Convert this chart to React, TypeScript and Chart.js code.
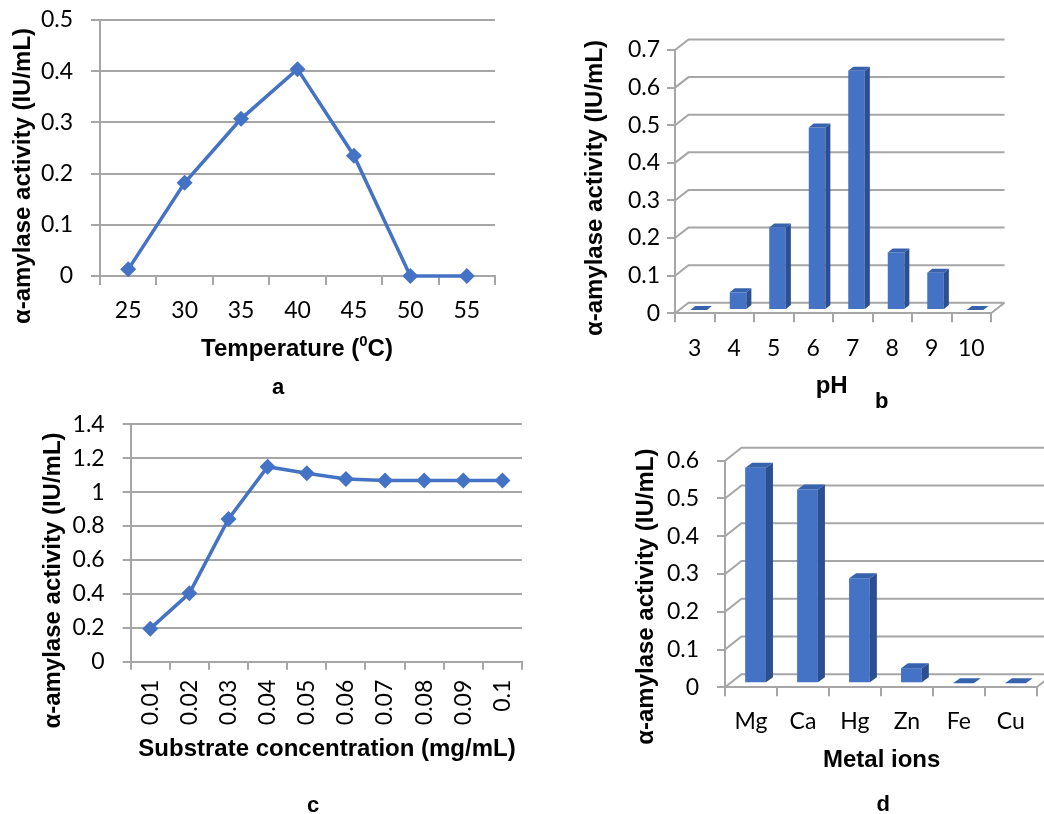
import React, { useEffect, useRef } from 'react';
import { Chart, registerables } from 'chart.js';

Chart.register(...registerables);

// ---------- data ----------
const temperatureLabels = ['25', '30', '35', '40', '45', '50', '55'];
const temperatureActivity = [0.013, 0.182, 0.307, 0.404, 0.235, 0, 0];

const phLabels = ['3', '4', '5', '6', '7', '8', '9', '10'];
const phActivity = [0, 0.047, 0.219, 0.485, 0.636, 0.153, 0.099, 0];

const substrateLabels = ['0.01', '0.02', '0.03', '0.04', '0.05', '0.06', '0.07', '0.08', '0.09', '0.1'];
const substrateActivity = [0.195, 0.403, 0.842, 1.15, 1.111, 1.078, 1.068, 1.068, 1.068, 1.068];

const metalLabels = ['Mg', 'Ca', 'Hg', 'Zn', 'Fe', 'Cu'];
const metalActivity = [0.571, 0.513, 0.278, 0.04, 0, 0];

const Y_TITLE = 'α-amylase activity (IU/mL)';

// ---------- style ----------
const BLUE = '#4472C4';
const SIDE = '#2c4f8f';
const TOP = '#3762ae';
const GRID = '#a6a6a6';
const TICK_FONT = { family: 'Lato, "Open Sans", sans-serif', size: 23 };
const TITLE_SIZE = 24;
const LETTER_SIZE = 22;

type Seg = { t: string; sup?: boolean };
type TextItem = { segs: Seg[]; x: number; y: number; size: number; rotate?: boolean };

function textPlugin(items: TextItem[]) {
  return {
    id: 'panelText',
    afterDraw(chart: any) {
      const ctx = chart.ctx as CanvasRenderingContext2D;
      const font = (s: number) => `bold ${s}px "Liberation Sans", Arial, sans-serif`;
      items.forEach((it) => {
        ctx.save();
        ctx.translate(it.x, it.y);
        if (it.rotate) ctx.rotate(-Math.PI / 2);
        ctx.fillStyle = '#000';
        ctx.textBaseline = 'middle';
        ctx.textAlign = 'left';
        const widths = it.segs.map((sg) => {
          ctx.font = font(sg.sup ? it.size * 0.62 : it.size);
          return ctx.measureText(sg.t).width;
        });
        const total = widths.reduce((a, b) => a + b, 0);
        let x = -total / 2;
        it.segs.forEach((sg, i) => {
          ctx.font = font(sg.sup ? it.size * 0.62 : it.size);
          ctx.fillText(sg.t, x, sg.sup ? -it.size * 0.3 : 0);
          x += widths[i];
        });
        ctx.restore();
      });
    },
  };
}

type ThreeD = { back: [number, number]; shift: [number, number]; depth: [number, number] };

function threeDPlugin(cfg: ThreeD) {
  return {
    id: 'threeD',
    beforeDatasetsDraw(chart: any) {
      const ctx = chart.ctx as CanvasRenderingContext2D;
      const { left, right, bottom } = chart.chartArea;
      const yScale = chart.scales.y;
      const [dx, dy] = cfg.back;
      ctx.save();
      ctx.strokeStyle = GRID;
      ctx.lineWidth = 2;
      ctx.beginPath();
      yScale.ticks.forEach((t: any) => {
        const py = yScale.getPixelForValue(t.value);
        ctx.moveTo(left, py);
        ctx.lineTo(left + dx, py + dy);
        ctx.lineTo(right + dx, py + dy);
      });
      ctx.moveTo(right, bottom);
      ctx.lineTo(right + dx, bottom + dy);
      ctx.stroke();
      ctx.restore();
      ctx.save();
      ctx.translate(cfg.shift[0], cfg.shift[1]);
    },
    afterDatasetsDraw(chart: any) {
      const ctx = chart.ctx as CanvasRenderingContext2D;
      ctx.restore();
      const meta = chart.getDatasetMeta(0);
      const [sx, sy] = cfg.shift;
      const [ddx, ddy] = cfg.depth;
      meta.data.forEach((bar: any) => {
        const { x, y, base, width } = bar.getProps(['x', 'y', 'base', 'width'], true);
        const l = x - width / 2 + sx;
        const r = x + width / 2 + sx;
        const t = y + sy;
        const b = base + sy;
        ctx.fillStyle = SIDE;
        ctx.beginPath();
        ctx.moveTo(r, t);
        ctx.lineTo(r + ddx, t + ddy);
        ctx.lineTo(r + ddx, b + ddy);
        ctx.lineTo(r, b);
        ctx.closePath();
        ctx.fill();
        ctx.fillStyle = TOP;
        ctx.beginPath();
        ctx.moveTo(l, t);
        ctx.lineTo(l + ddx, t + ddy);
        ctx.lineTo(r + ddx, t + ddy);
        ctx.lineTo(r, t);
        ctx.closePath();
        ctx.fill();
      });
    },
  };
}

function xCat(o: { height: number; tickLength: number; padding: number; rot?: number }) {
  return {
    type: 'category',
    offset: true,
    grid: { offset: true, drawOnChartArea: false, drawTicks: true, tickLength: o.tickLength, color: GRID, lineWidth: 2 },
    border: { display: true, color: GRID, width: 2 },
    ticks: {
      color: '#000',
      font: TICK_FONT,
      padding: o.padding,
      autoSkip: false,
      maxRotation: o.rot ?? 0,
      minRotation: o.rot ?? 0,
    },
    afterFit: (s: any) => {
      s.height = o.height;
      s.paddingLeft = 0;
      s.paddingRight = 0;
    },
  };
}

function yLin(o: { width: number; max: number; step: number; tickLength: number; padding: number; grid: boolean }) {
  return {
    type: 'linear',
    min: 0,
    max: o.max,
    ticks: {
      stepSize: o.step,
      color: '#000',
      font: TICK_FONT,
      padding: o.padding,
      callback: (v: number) => String(Math.round(v * 100) / 100),
    },
    grid: { drawOnChartArea: o.grid, drawTicks: true, tickLength: o.tickLength, color: GRID, lineWidth: 2 },
    border: { display: true, color: GRID, width: 2 },
    afterFit: (s: any) => {
      s.width = o.width;
      s.paddingTop = 0;
      s.paddingBottom = 0;
    },
  };
}

function common(padding: any) {
  return {
    responsive: false,
    animation: false,
    events: [],
    layout: { padding, autoPadding: false },
    plugins: { legend: { display: false }, tooltip: { enabled: false } },
  };
}

function lineDataset(values: number[]) {
  return {
    data: values,
    borderColor: BLUE,
    backgroundColor: BLUE,
    borderWidth: 3.5,
    pointStyle: 'rectRot',
    pointRadius: 8,
    pointBackgroundColor: BLUE,
    pointBorderColor: BLUE,
    pointBorderWidth: 0,
    tension: 0,
    clip: false,
  };
}

function barDataset(values: number[], pct: number) {
  return {
    data: values,
    backgroundColor: BLUE,
    borderWidth: 0,
    barPercentage: pct,
    categoryPercentage: 1,
    clip: false,
  };
}

const makeA = () => ({
  type: 'line',
  data: { labels: temperatureLabels, datasets: [lineDataset(temperatureActivity)] },
  options: {
    ...common({ left: 0, top: 20, right: 45, bottom: 0 }),
    scales: {
      x: xCat({ height: 134, tickLength: 9, padding: 12 }),
      y: yLin({ width: 100, max: 0.5, step: 0.1, tickLength: 9, padding: 18, grid: true }),
    },
  },
  plugins: [
    textPlugin([
      { segs: [{ t: Y_TITLE }], x: 23, y: 176, size: TITLE_SIZE, rotate: true },
      { segs: [{ t: 'Temperature (' }, { t: '0', sup: true }, { t: 'C)' }], x: 297, y: 349, size: TITLE_SIZE },
      { segs: [{ t: 'a' }], x: 278, y: 388, size: LETTER_SIZE },
    ]),
  ],
});

const makeB = () => ({
  type: 'bar',
  data: { labels: phLabels, datasets: [barDataset(phActivity, 0.42)] },
  options: {
    ...common({ left: 0, top: 50, right: 53, bottom: 0 }),
    scales: {
      x: xCat({ height: 96.7, tickLength: 9, padding: 12 }),
      y: yLin({ width: 135, max: 0.7, step: 0.1, tickLength: 8, padding: 7, grid: false }),
    },
  },
  plugins: [
    threeDPlugin({ back: [13.5, -10.5], shift: [3.8, -3.3], depth: [5, -4] }),
    textPlugin([
      { segs: [{ t: Y_TITLE }], x: 55, y: 188, size: TITLE_SIZE, rotate: true },
      { segs: [{ t: 'pH' }], x: 291.7, y: 386.7, size: TITLE_SIZE },
      { segs: [{ t: 'b' }], x: 341.7, y: 401.7, size: LETTER_SIZE },
    ]),
  ],
});

const makeC = () => ({
  type: 'line',
  data: { labels: substrateLabels, datasets: [lineDataset(substrateActivity)] },
  options: {
    ...common({ left: 0, top: 14.3, right: 18, bottom: 0 }),
    scales: {
      x: xCat({ height: 152.3, tickLength: 8, padding: 10, rot: 90 }),
      y: yLin({ width: 130.7, max: 1.4, step: 0.2, tickLength: 8, padding: 18, grid: true }),
    },
  },
  plugins: [
    textPlugin([
      { segs: [{ t: Y_TITLE }], x: 53, y: 170.5, size: TITLE_SIZE, rotate: true },
      { segs: [{ t: 'Substrate concentration (mg/mL)' }], x: 327, y: 339, size: TITLE_SIZE },
      { segs: [{ t: 'c' }], x: 313, y: 396, size: LETTER_SIZE },
    ]),
  ],
});

const makeD = () => ({
  type: 'bar',
  data: { labels: metalLabels, datasets: [barDataset(metalActivity, 0.4)] },
  options: {
    ...common({ left: 0, top: 50.7, right: 7.3, bottom: 0 }),
    scales: {
      x: xCat({ height: 126.7, tickLength: 9, padding: 11 }),
      y: yLin({ width: 185, max: 0.6, step: 0.1, tickLength: 8, padding: 18, grid: false }),
    },
  },
  plugins: [
    threeDPlugin({ back: [16.5, -13], shift: [4.6, -4], depth: [7, -5] }),
    textPlugin([
      { segs: [{ t: Y_TITLE }], x: 106.7, y: 186.7, size: TITLE_SIZE, rotate: true },
      { segs: [{ t: 'Metal ions' }], x: 341.7, y: 350, size: TITLE_SIZE },
      { segs: [{ t: 'd' }], x: 343.3, y: 395, size: LETTER_SIZE },
    ]),
  ],
});

function ChartCanvas(props: { left: number; top: number; width: number; height: number; make: () => any }) {
  const ref = useRef<HTMLCanvasElement>(null);
  useEffect(() => {
    const chart = new Chart(ref.current as HTMLCanvasElement, props.make());
    return () => chart.destroy();
  }, []);
  return (
    <canvas
      ref={ref}
      width={props.width}
      height={props.height}
      style={{ position: 'absolute', left: props.left, top: props.top, width: props.width, height: props.height }}
    />
  );
}

export default function App() {
  return (
    <div style={{ position: 'absolute', left: 0, top: 0, width: 1044, height: 814, background: '#fff', overflow: 'hidden' }}>
      <ChartCanvas left={0} top={0} width={540} height={410} make={makeA} />
      <ChartCanvas left={540} top={0} width={504} height={410} make={makeB} />
      <ChartCanvas left={0} top={410} width={540} height={404} make={makeC} />
      <ChartCanvas left={540} top={410} width={504} height={404} make={makeD} />
    </div>
  );
}
